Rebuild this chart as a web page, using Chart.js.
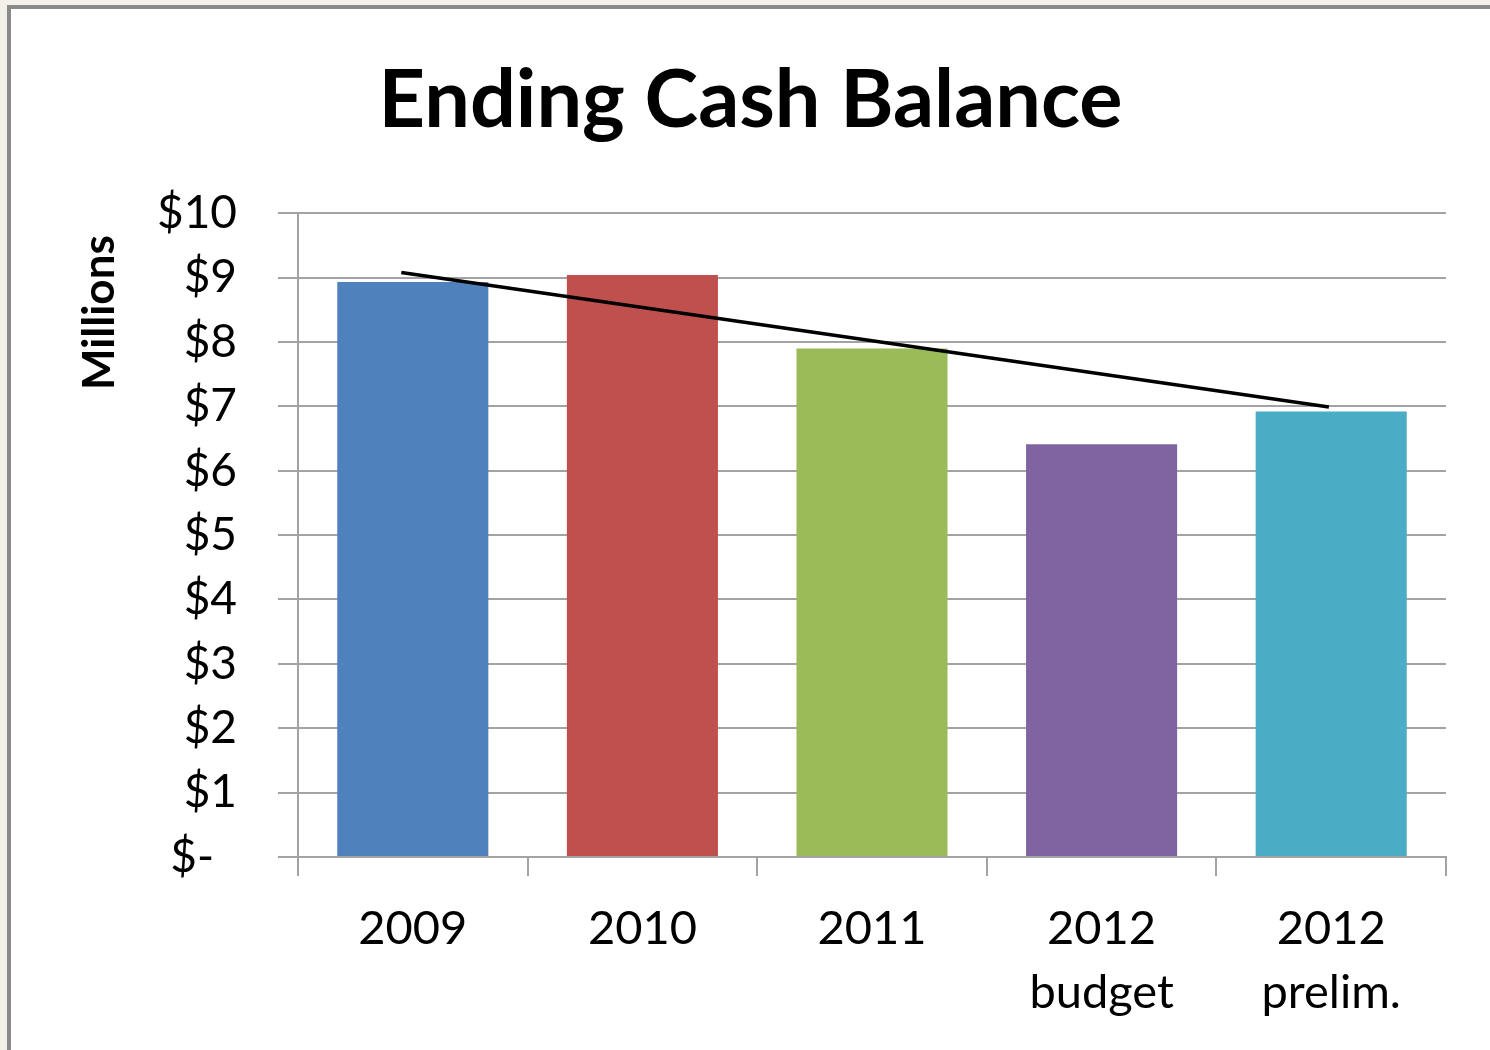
<!DOCTYPE html>
<html>
<head>
<meta charset="utf-8">
<script src="https://cdn.jsdelivr.net/npm/chart.js@4/dist/chart.umd.min.js"></script>
<style>
    html, body { margin: 0; padding: 0; background: #f3efe9; width: 1490px; height: 1050px; overflow: hidden; }
    #frame {
        position: absolute; left: 7px; top: 5px; right: 0; bottom: 0;
        border-top: 4px solid #8a8a8a; border-left: 4px solid #8a8a8a;
        background: #fff;
    }
    #chartBox { position: absolute; left: 0; top: 0; right: 0; bottom: 0; }
</style>
</head>
<body>
<div id="frame"><div id="chartBox"><canvas id="cashChart"></canvas></div></div>
<script>
// Dữ liệu (triệu USD)
const categories = [['2009'], ['2010'], ['2011'], ['2012', 'budget'], ['2012', 'prelim.']];
const cashValues = [8.93, 9.04, 7.90, 6.41, 6.92];
const barColors = ['#4f81bd', '#c0504d', '#9bbb59', '#8064a2', '#4bacc6'];
// Đường xu hướng vẽ tay: vị trí theo chỉ số danh mục, giá trị đầu/cuối
const trendX = [-0.05, 3.99];
const trendY = [9.08, 6.99];
const yTicks = [0, 1, 2, 3, 4, 5, 6, 7, 8, 9, 10];

const fontFamily = 'Lato, "Open Sans", sans-serif';
const gridColor = '#a3a3a3';

document.addEventListener("DOMContentLoaded", function() {
    const ctx = document.getElementById('cashChart').getContext('2d');

    new Chart(ctx, {
        data: {
            labels: categories,
            datasets: [{
                type: 'bar',
                data: cashValues,
                backgroundColor: barColors,
                borderWidth: 0,
                grouped: false,
                barPercentage: 1,
                categoryPercentage: 0.658,
                order: 2
            }, {
                type: 'line',
                xAxisID: 'xTrend',
                data: trendX.map((x, i) => ({ x: x, y: trendY[i] })),
                borderColor: '#000',
                borderWidth: 3.5,
                pointRadius: 0,
                fill: false,
                order: 1
            }]
        },
        options: {
            responsive: true,
            maintainAspectRatio: false,
            animation: false,
            layout: { padding: 0 },
            plugins: {
                legend: { display: false },
                tooltip: { enabled: false },
                title: {
                    display: true,
                    text: 'Ending Cash Balance',
                    color: '#000',
                    font: { family: fontFamily, size: 81, weight: 'bold', lineHeight: 1.2 },
                    padding: { top: 43, bottom: 64 }
                }
            },
            scales: {
                x: {
                    type: 'category',
                    offset: true,
                    grid: { offset: true, drawOnChartArea: false, tickLength: 19, color: gridColor, lineWidth: 2 },
                    border: { display: true, color: gridColor, width: 2 },
                    ticks: {
                        color: '#000',
                        padding: 20,
                        maxRotation: 0,
                        font: { family: fontFamily, size: 47, lineHeight: 1.38 }
                    },
                    afterFit: (scale) => { scale.height = 193; }
                },
                xTrend: {
                    type: 'linear',
                    display: false,
                    min: -0.5,
                    max: 4.5,
                    offset: false
                },
                y: {
                    min: 0,
                    max: 10,
                    afterBuildTicks: (scale) => { scale.ticks = yTicks.map(v => ({ value: v })); },
                    grid: { color: gridColor, lineWidth: 2, tickLength: 20 },
                    border: { display: true, color: gridColor, width: 2 },
                    ticks: {
                        color: '#000',
                        padding: 41,
                        font: { family: fontFamily, size: 46 },
                        callback: (v) => v === 0 ? '$-\u2002' : '$' + v
                    },
                    title: {
                        display: true,
                        text: 'Millions\u2002',
                        align: 'end',
                        color: '#000',
                        font: { family: fontFamily, size: 44, weight: 'bold', lineHeight: 1.2 },
                        padding: { top: 62, bottom: 0 }
                    },
                    afterFit: (scale) => { scale.width = 287; }
                },
                // Trục phụ vô hình bên phải, chỉ để chừa lề phải
                yRight: {
                    position: 'right',
                    min: 0,
                    max: 10,
                    grid: { display: false },
                    border: { display: false },
                    ticks: { display: false },
                    afterFit: (scale) => { scale.width = 44; }
                }
            }
        }
    });
});
</script>
</body>
</html>
